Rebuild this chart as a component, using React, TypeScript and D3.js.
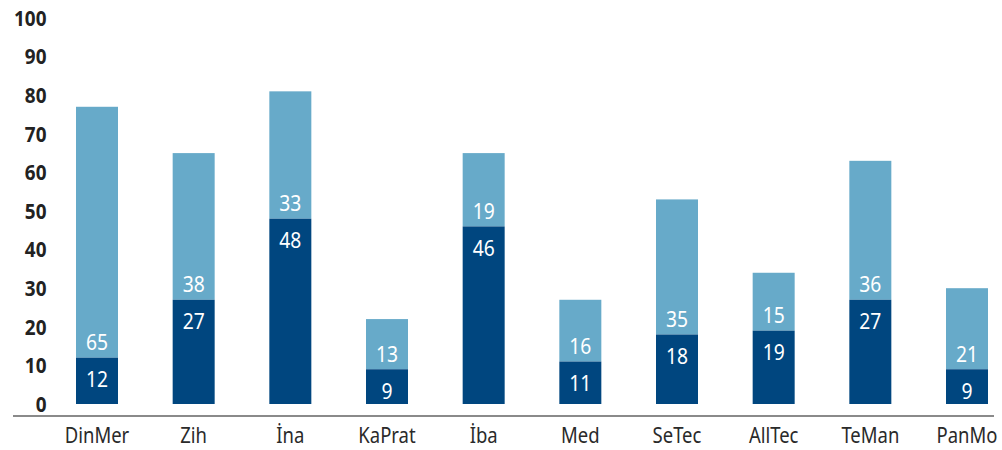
import React from "react";
import * as d3 from "d3";

const categories = ["DinMer", "Zih", "İna", "KaPrat", "İba", "Med", "SeTec", "AllTec", "TeMan", "PanMo"];
const darkValues = [12, 27, 48, 9, 46, 11, 18, 19, 27, 9];
const lightValues = [65, 38, 33, 13, 19, 16, 35, 15, 36, 21];
const yTicks = [0, 10, 20, 30, 40, 50, 60, 70, 80, 90, 100];

const W = 1002;
const H = 450;
const DARK = "#00467F";
const LIGHT = "#67AAC9";
const FONT = "'Noto Sans', 'Open Sans', sans-serif";

function T({ x, y, sx, anchor, size, weight, fill, children }: any) {
  return (
    <g transform={`translate(${x},${y}) scale(${sx},1)`}>
      <text dy="0.35em" textAnchor={anchor} fontFamily={FONT} fontWeight={weight} fontSize={size} fill={fill}>
        {children}
      </text>
    </g>
  );
}

export default function App() {
  const x = d3.scalePoint<string>().domain(categories).range([97, 967]);
  const y = d3.scaleLinear().domain([0, 100]).range([404, 18]);
  const bw = 42;

  return (
    <svg width={W} height={H} style={{ position: "absolute", left: 0, top: 0, background: "#fff" }}>
      {yTicks.map((t) => (
        <T key={t} x={46.5} y={y(t) + 0.5} sx={0.9} anchor="end" size={21} weight="bold" fill="#222">
          {t}
        </T>
      ))}
      <line x1={13} x2={994} y1={416} y2={416} stroke="#8a8a8a" strokeWidth={2} />
      {categories.map((c, i) => {
        const cx = x(c)!;
        const d = darkValues[i];
        const l = lightValues[i];
        const yD = y(d);
        const yT = y(d + l);
        return (
          <g key={c}>
            <rect x={cx - bw / 2} y={yT} width={bw} height={yD - yT} fill={LIGHT} />
            <rect x={cx - bw / 2} y={yD} width={bw} height={y(0) - yD} fill={DARK} />
            <T x={cx} y={yD + 22} sx={0.92} anchor="middle" size={21} weight="normal" fill="#fff">
              {d}
            </T>
            <T x={cx} y={yD - 15} sx={0.92} anchor="middle" size={21} weight="normal" fill="#fff">
              {l}
            </T>
            <T x={cx} y={436} sx={0.88} anchor="middle" size={21} weight="normal" fill="#2a2a2a">
              {c}
            </T>
          </g>
        );
      })}
    </svg>
  );
}
